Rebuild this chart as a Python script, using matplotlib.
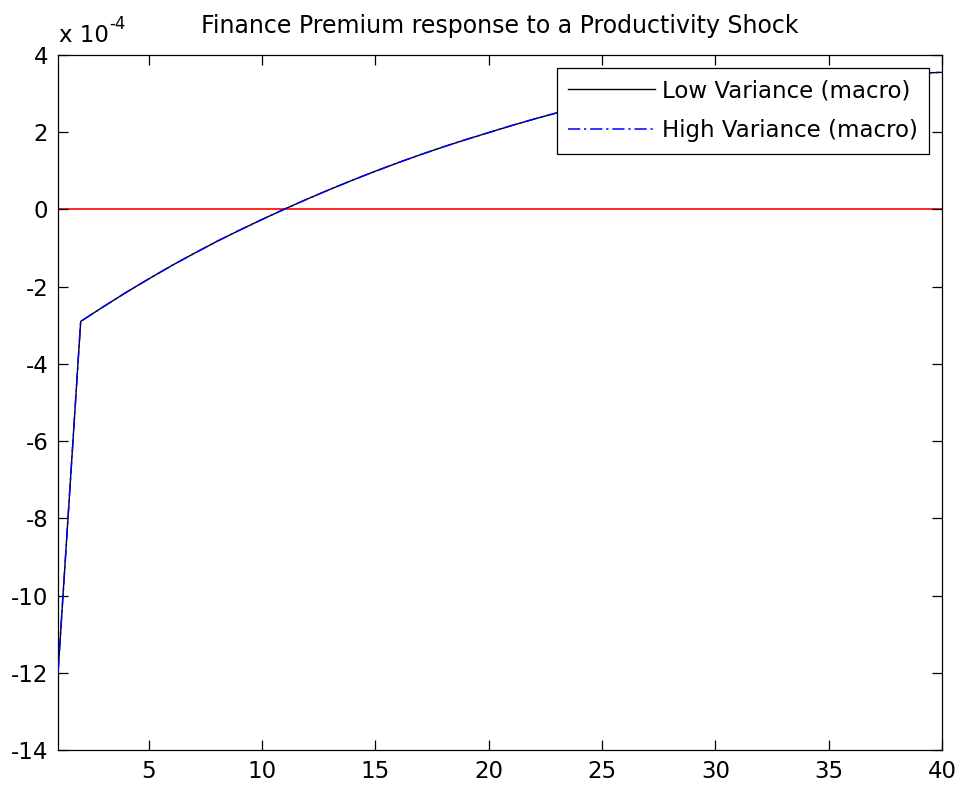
import matplotlib

matplotlib.use("Agg")
import matplotlib.pyplot as plt
from matplotlib.transforms import offset_copy

# impulse response, in units of 1e-4
periods = list(range(1, 41))
low_variance = [
    -12.0, -2.90, -2.52, -2.15, -1.80, -1.46, -1.14, -0.83, -0.54, -0.26,
    0.01, 0.27, 0.52, 0.76, 0.99, 1.21, 1.42, 1.62, 1.81, 1.99,
    2.17, 2.34, 2.50, 2.65, 2.78, 2.89, 2.99, 3.08, 3.15, 3.22,
    3.28, 3.33, 3.37, 3.41, 3.44, 3.47, 3.49, 3.51, 3.53, 3.55,
]
high_variance = [
    -12.0, -2.90, -2.52, -2.15, -1.80, -1.46, -1.14, -0.83, -0.54, -0.26,
    0.01, 0.27, 0.52, 0.76, 0.99, 1.21, 1.42, 1.62, 1.81, 1.99,
    2.17, 2.34, 2.50, 2.65, 2.78, 2.89, 2.99, 3.08, 3.15, 3.22,
    3.28, 3.33, 3.37, 3.41, 3.44, 3.47, 3.49, 3.51, 3.53, 3.55,
]
zero_line = [0.0] * len(periods)
x_ticks = [5, 10, 15, 20, 25, 30, 35, 40]
y_ticks = [-14, -12, -10, -8, -6, -4, -2, 0, 2, 4]

plt.rcParams["font.family"] = ["DejaVu Sans"]
plt.rcParams["axes.unicode_minus"] = False
FS = 16.5

fig = plt.figure(figsize=(9.59, 7.91), dpi=100)
ax = fig.add_axes([0.0605, 0.0518, 0.9218, 0.8787])

ax.plot(periods, low_variance, color="black", lw=1.0, label="Low Variance (macro)", zorder=2)
ax.plot(periods, high_variance, color="blue", lw=1.1, dashes=(8, 2.5, 1.5, 2.5),
        label="High Variance (macro)", zorder=3)
ax.plot(periods, zero_line, color="red", lw=1.2, zorder=1)

ax.set_xlim(1, 40)
ax.set_ylim(-14, 4)
ax.set_xticks(x_ticks)
ax.set_yticks(y_ticks)
ax.tick_params(direction="in", length=7, width=0.9, labelsize=FS,
               top=True, right=True, pad=7)
ax.tick_params(axis="x", pad=7)
for sp in ax.spines.values():
    sp.set_linewidth(0.9)

ax.set_title("Finance Premium response to a Productivity Shock", fontsize=17, pad=16)

# exponent label in the matlab style
base = ax.text(0.0, 1.0, "x 10", fontsize=FS, ha="left", va="baseline",
               transform=offset_copy(ax.transAxes, fig=fig, x=1, y=9, units="points"))
ax.annotate("-4", xy=(1.0, 1.0), xycoords=base, fontsize=FS * 0.72,
            ha="left", va="center")

leg = ax.legend(loc="upper right", fontsize=FS, frameon=True, fancybox=False,
                edgecolor="black", framealpha=1, borderaxespad=0.55,
                handlelength=3.8, handletextpad=0.3, labelspacing=0.75,
                borderpad=0.5)
leg.get_frame().set_linewidth(0.9)

fig.savefig("out.png", dpi=100)
